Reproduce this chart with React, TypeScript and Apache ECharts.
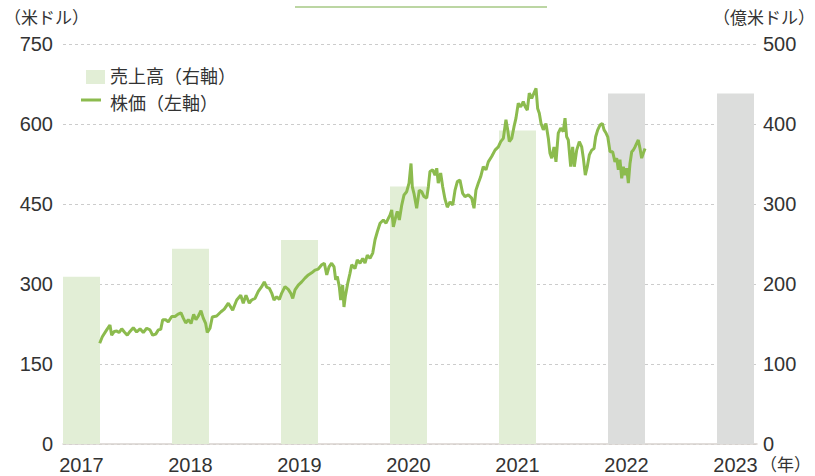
import React, { useEffect, useRef } from "react";
import * as echarts from "echarts";

const years = [2017, 2018, 2019, 2020, 2021, 2022, 2023];
const revenue = [209, 244, 255, 322, 392, 438, 438];
const isForecast = [false, false, false, false, false, true, true];

const leftTicks = [0, 150, 300, 450, 600, 750];
const rightTicks = [0, 100, 200, 300, 400, 500];

const priceDates = [
  2017.167, 2017.191, 2017.231, 2017.261, 2017.277, 2017.301, 2017.323, 2017.344, 2017.369, 2017.393,
  2017.42, 2017.445, 2017.475, 2017.506, 2017.537, 2017.567, 2017.598, 2017.628, 2017.653, 2017.681,
  2017.705, 2017.727, 2017.745, 2017.772, 2017.796, 2017.828, 2017.858, 2017.883, 2017.913, 2017.934,
  2017.956, 2017.98, 2018.005, 2018.029, 2018.05, 2018.072, 2018.096, 2018.117, 2018.139, 2018.154,
  2018.179, 2018.2, 2018.24, 2018.28, 2018.31, 2018.347, 2018.387, 2018.424, 2018.461, 2018.484,
  2018.509, 2018.539, 2018.561, 2018.592, 2018.622, 2018.653, 2018.677, 2018.699, 2018.723, 2018.745,
  2018.766, 2018.791, 2018.815, 2018.837, 2018.867, 2018.897, 2018.919, 2018.938, 2018.959, 2018.989,
  2019.02, 2019.05, 2019.081, 2019.112, 2019.142, 2019.172, 2019.204, 2019.228, 2019.25, 2019.271,
  2019.295, 2019.317, 2019.332, 2019.347, 2019.365, 2019.378, 2019.396, 2019.408, 2019.42, 2019.442,
  2019.463, 2019.479, 2019.509, 2019.53, 2019.555, 2019.58, 2019.601, 2019.622, 2019.647, 2019.672,
  2019.693, 2019.714, 2019.739, 2019.769, 2019.794, 2019.815, 2019.83, 2019.846, 2019.861, 2019.883,
  2019.897, 2019.916, 2019.938, 2019.959, 2019.983, 2020.005, 2020.023, 2020.035, 2020.05, 2020.075,
  2020.099, 2020.121, 2020.142, 2020.167, 2020.182, 2020.197, 2020.222, 2020.243, 2020.259, 2020.273,
  2020.295, 2020.314, 2020.335, 2020.356, 2020.381, 2020.406, 2020.427, 2020.448, 2020.472, 2020.497,
  2020.518, 2020.549, 2020.58, 2020.601, 2020.619, 2020.64, 2020.662, 2020.686, 2020.711, 2020.732,
  2020.763, 2020.794, 2020.824, 2020.846, 2020.87, 2020.894, 2020.91, 2020.925, 2020.947, 2020.968,
  2020.986, 2021.007, 2021.029, 2021.053, 2021.072, 2021.09, 2021.108, 2021.13, 2021.151, 2021.17,
  2021.185, 2021.2, 2021.216, 2021.237, 2021.261, 2021.283, 2021.298, 2021.314, 2021.335, 2021.353,
  2021.374, 2021.396, 2021.42, 2021.436, 2021.451, 2021.466, 2021.488, 2021.506, 2021.521, 2021.543,
  2021.567, 2021.589, 2021.604, 2021.622, 2021.64, 2021.659, 2021.681, 2021.702, 2021.717, 2021.736,
  2021.757, 2021.778, 2021.794, 2021.812, 2021.828, 2021.849, 2021.873, 2021.894, 2021.91, 2021.925,
  2021.94, 2021.956, 2021.971, 2021.986, 2022.002, 2022.017, 2022.032, 2022.048, 2022.062, 2022.078,
  2022.094, 2022.108, 2022.124, 2022.139, 2022.154, 2022.17,
];

const prices = [
  189, 201, 214, 223, 204, 211, 212, 209, 216, 210,
  204, 211, 218, 210, 216, 209, 217, 214, 204, 206,
  214, 215, 233, 233, 229, 239, 239, 243, 246, 236,
  227, 233, 226, 243, 233, 240, 250, 236, 226, 209,
  217, 238, 240, 248, 253, 264, 251, 270, 279, 264,
  279, 264, 270, 273, 286, 295, 304, 294, 292, 283,
  270, 276, 271, 283, 295, 290, 283, 273, 289, 298,
  304, 311, 317, 321, 326, 328, 336, 339, 317, 332,
  339, 332, 308, 314, 295, 270, 298, 257, 276, 301,
  320, 336, 329, 345, 339, 348, 339, 354, 348, 358,
  383, 398, 414, 420, 414, 423, 429, 439, 407, 426,
  436, 420, 448, 467, 473, 489, 526, 482, 470, 442,
  476, 473, 464, 461, 482, 511, 514, 504, 517, 489,
  508, 482, 459, 444, 454, 448, 476, 492, 495, 470,
  464, 467, 461, 442, 476, 489, 501, 520, 514, 529,
  539, 551, 557, 567, 573, 608, 589, 567, 573, 595,
  611, 639, 632, 642, 632, 626, 658, 648, 658, 667,
  629, 620, 601, 589, 601, 573, 545, 536, 557, 529,
  583, 592, 586, 611, 576, 570, 520, 557, 520, 551,
  567, 557, 536, 504, 520, 542, 551, 554, 576, 589,
  598, 601, 589, 583, 576, 548, 548, 529, 536, 514,
  533, 498, 520, 504, 517, 489, 526, 548, 551, 557,
  564, 570, 554, 536, 545, 554,
];

const GREEN_LINE = "#8cbb4e";
const GREEN_BAR = "#e2eed6";
const GRAY_BAR = "#dcdddc";
const TEXT = "#333333";
const FONT = "'Liberation Sans', 'Noto Sans CJK JP', sans-serif";

export default function App() {
  const ref = useRef<HTMLDivElement>(null);

  useEffect(() => {
    if (!ref.current) return;
    const chart = echarts.init(ref.current, undefined, { renderer: "svg" });
    const option = {
      animation: false,
      backgroundColor: "#ffffff",
      textStyle: { fontFamily: FONT },
      grid: { left: 63, right: 58, top: 44, bottom: 32, containLabel: false },
      legend: {
        orient: "vertical",
        left: 81,
        top: 63,
        itemWidth: 19,
        itemHeight: 14,
        itemGap: 9,
        textStyle: { fontSize: 18, color: TEXT, fontFamily: FONT },
        data: [
          { name: "売上高（右軸）", icon: "rect", itemStyle: { color: GREEN_BAR } },
          { name: "株価（左軸）", icon: "none" },
        ],
      },
      xAxis: {
        type: "value",
        min: 2016.8303,
        max: 2023.1972,
        splitLine: { show: false },
        axisTick: { show: false },
        axisLine: { show: true, lineStyle: { color: "#d8d2ce", width: 1.5 } },
        axisLabel: {
          customValues: years,
          formatter: (v: number) => String(Math.round(v)),
          fontSize: 20,
          color: TEXT,
          margin: 11,
          fontFamily: FONT,
        },
      },
      yAxis: [
        {
          type: "value",
          min: leftTicks[0],
          max: leftTicks[leftTicks.length - 1],
          interval: 150,
          axisLine: { show: false },
          axisTick: { show: false },
          axisLabel: { fontSize: 20, color: TEXT, margin: 10, fontFamily: FONT },
          splitLine: {
            show: true,
            lineStyle: { color: "#cccccc", type: [3, 3], width: 1 },
          },
        },
        {
          type: "value",
          min: rightTicks[0],
          max: rightTicks[rightTicks.length - 1],
          interval: 100,
          position: "right",
          axisLine: { show: false },
          axisTick: { show: false },
          axisLabel: { fontSize: 20, color: TEXT, margin: 6, fontFamily: FONT },
          splitLine: { show: false },
        },
      ],
      series: [
        {
          name: "売上高（右軸）",
          type: "bar",
          yAxisIndex: 1,
          barWidth: 37,
          itemStyle: { color: GREEN_BAR },
          data: years.map((y, i) => ({
            value: [y, revenue[i]],
            itemStyle: { color: isForecast[i] ? GRAY_BAR : GREEN_BAR },
          })),
          z: 2,
        },
        {
          name: "株価（左軸）",
          type: "line",
          yAxisIndex: 0,
          symbol: "none",
          showSymbol: false,
          lineStyle: { color: GREEN_LINE, width: 3 },
          itemStyle: { color: GREEN_LINE },
          data: priceDates.map((d, i) => [d, prices[i]]),
          z: 3,
        },
      ],
      graphic: [
        {
          type: "text",
          left: 4,
          top: 10,
          style: { text: "（米ドル）", fontSize: 17, fill: TEXT, fontFamily: FONT },
        },
        {
          type: "text",
          right: 0,
          top: 10,
          style: { text: "（億米ドル）", fontSize: 17, fill: TEXT, fontFamily: FONT },
        },
        {
          type: "text",
          left: 760,
          top: 457,
          style: { text: "（年）", fontSize: 17, fill: TEXT, fontFamily: FONT },
        },
        {
          type: "line",
          shape: { x1: 295, y1: 7, x2: 547, y2: 7 },
          style: { stroke: "#a6c985", lineWidth: 1.5 },
        },
        {
          type: "line",
          shape: { x1: 81, y1: 100, x2: 101, y2: 100 },
          style: { stroke: GREEN_LINE, lineWidth: 3 },
        },
      ],
    };
    chart.setOption(option as any);
    return () => chart.dispose();
  }, []);

  return (
    <div
      ref={ref}
      style={{ position: "fixed", left: 0, top: 0, width: 815, height: 476 }}
    />
  );
}
